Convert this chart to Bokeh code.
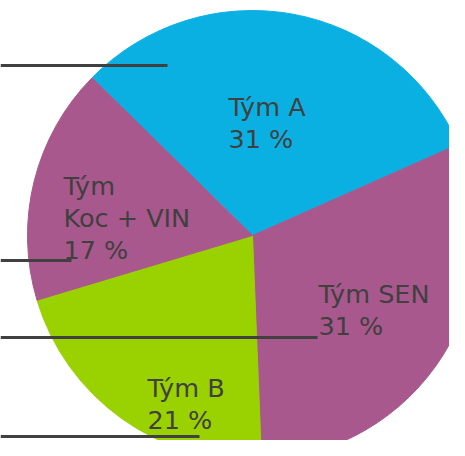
import numpy as np
from bokeh.plotting import figure
from bokeh.models import Range1d, ColumnDataSource
from bokeh.core.properties import value
from bokeh.embed import file_html
from bokeh.resources import INLINE

# ---- data ----
teams = ["Tým A", "Tým SEN", "Tým B", "Tým\nKoc + VIN"]
shares = [31, 31, 21, 17]
colors = ["#0BB0E2", "#A9588D", "#9AD100", "#A9588D"]

# ---- layout (picture pixel coordinates; data y = PAGE_H - picture y) ----
PAGE_H = 456
cx, cy_page, radius = 252, 235, 225
start_deg = 135.5
label_x = [228, 318, 147, 63]
label_base = [106, 293, 387, 185]
line_gap = 32
leader_y = [65, 337, 436, 260]
leader_end = [167, 317, 199, 71]

W, H = 449, 440
p = figure(width=W, height=H, x_range=Range1d(0, W), y_range=Range1d(PAGE_H - H, PAGE_H),
           output_backend="svg", toolbar_location=None, min_border=0,
           x_axis_location=None, y_axis_location=None)
p.grid.visible = False
p.outline_line_color = None
p.background_fill_color = "white"
p.border_fill_color = "white"

vals = np.array(shares, dtype=float)
cum = np.concatenate([[0], np.cumsum(vals)]) / vals.sum() * 2 * np.pi
start = np.radians(start_deg)
a_from = start - cum[:-1]
a_to = start - cum[1:]
src = ColumnDataSource(dict(x=[cx] * len(shares), y=[PAGE_H - cy_page] * len(shares),
                            s=list(a_to), e=list(a_from), c=colors))
p.wedge(x="x", y="y", radius=radius, start_angle="s", end_angle="e",
        fill_color="c", line_color="c", line_width=1, source=src)

p.segment(x0=[0] * len(leader_y), y0=[PAGE_H - y for y in leader_y],
          x1=leader_end, y1=[PAGE_H - y for y in leader_y],
          line_width=3, line_color="#404040")

tx, ty, tt = [], [], []
for team, share, lx, lb in zip(teams, shares, label_x, label_base):
    lines = team.split("\n") + [f"{share} %"]
    for i, ln in enumerate(lines):
        tx.append(lx)
        ty.append(PAGE_H - (lb + i * line_gap))
        tt.append(ln)
p.text(x=tx, y=ty, text=tt, text_font=value("DejaVu Sans"), text_font_size="25.5px",
       text_color="#404040", text_baseline="alphabetic", text_align="left")

open("out.html", "w").write(file_html(p, INLINE))
